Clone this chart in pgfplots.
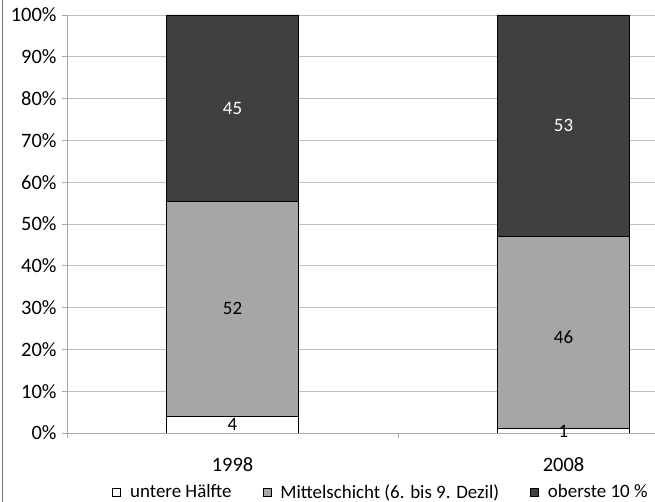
\documentclass[border=0pt]{standalone}
\usepackage{pgfplots}
\pgfplotsset{compat=1.18}
\usepackage{fontspec}
\setmainfont{Carlito}
\definecolor{midgray}{HTML}{A6A6A6}
\definecolor{topgray}{HTML}{404040}
\definecolor{gridgray}{HTML}{BEBEBE}
\definecolor{axisgray}{HTML}{A8A8A8}
\definecolor{framegray}{HTML}{707070}
\pgfplotsset{
  common/.style={
    scale only axis,
    at={(67bp,69bp)}, anchor=south west,
    width=595.8bp, height=418bp,
    xmin=-0.5, xmax=1.3,
    ymin=0, ymax=100,
  }
}
\begin{document}
\begin{tikzpicture}[x=1bp,y=1bp]
\path[use as bounding box] (0,0) rectangle (655,502);
\begin{scope}
\clip (0,0) rectangle (655,502);
\draw[framegray, line width=1bp] (2.5,0) -- (2.5,502);
\begin{axis}[
  common,
  ybar stacked,
  bar width=132bp,
  axis x line*=bottom,
  axis y line*=left,
  axis line style={draw=axisgray, line width=0.8bp},
  ymajorgrids,
  grid style={draw=gridgray, line width=0.8bp},
  ytick={0,10,...,100},
  yticklabel={\pgfmathprintnumber{\tick}\%},
  /pgf/number format/assume math mode=true,
  tick align=outside,
  major tick length=5bp,
  tick style={draw=axisgray, line width=0.8bp},
  yticklabel style={font=\fontsize{20.5}{24}\selectfont, xshift=-2bp},
  xtick={-0.5,0.5,1.5},
  xticklabels={},
  extra x ticks={0,1},
  extra x tick labels={1998,2008},
  extra x tick style={major tick length=0pt, grid=none,
    xticklabel style={font=\fontsize{20.5}{24}\selectfont, yshift=-21bp}},
  legend columns=3,
  legend style={draw=none, fill=none, at={(axis description cs:0.527,-0.141)}, anchor=center,
    font=\fontsize{19}{22}\selectfont,
    /tikz/every even column/.append style={column sep=29bp}},
  legend image code/.code={\draw[#1] (0bp,-4bp) rectangle (8bp,4bp); \path (15bp,0bp);},
]
\addplot[fill=white, draw=black, line width=0.8bp] coordinates {(0,3.96) (1,1)};
\addplot[fill=midgray, draw=black, line width=0.8bp] coordinates {(0,51.49) (1,46)};
\addplot[fill=topgray, draw=black, line width=0.8bp] coordinates {(0,44.55) (1,53)};
\legend{untere Hälfte, Mittelschicht (6. bis 9. Dezil), oberste 10 \%}
\end{axis}
\begin{axis}[common, hide axis]
\addplot[only marks, mark=none, point meta=explicit symbolic,
  nodes near coords, nodes near coords style={anchor=center, font=\fontsize{19}{22}\selectfont, text=black}]
  table[meta=label] {
x y label
0 1.98 4
1 0.45 1
0 29.7 52
1 23.0 46
};
\addplot[only marks, mark=none, point meta=explicit symbolic,
  nodes near coords, nodes near coords style={anchor=center, font=\fontsize{19}{22}\selectfont, text=white}]
  table[meta=label] {
x y label
0 77.7 45
1 73.5 53
};
\end{axis}
\end{scope}
\end{tikzpicture}
\end{document}
